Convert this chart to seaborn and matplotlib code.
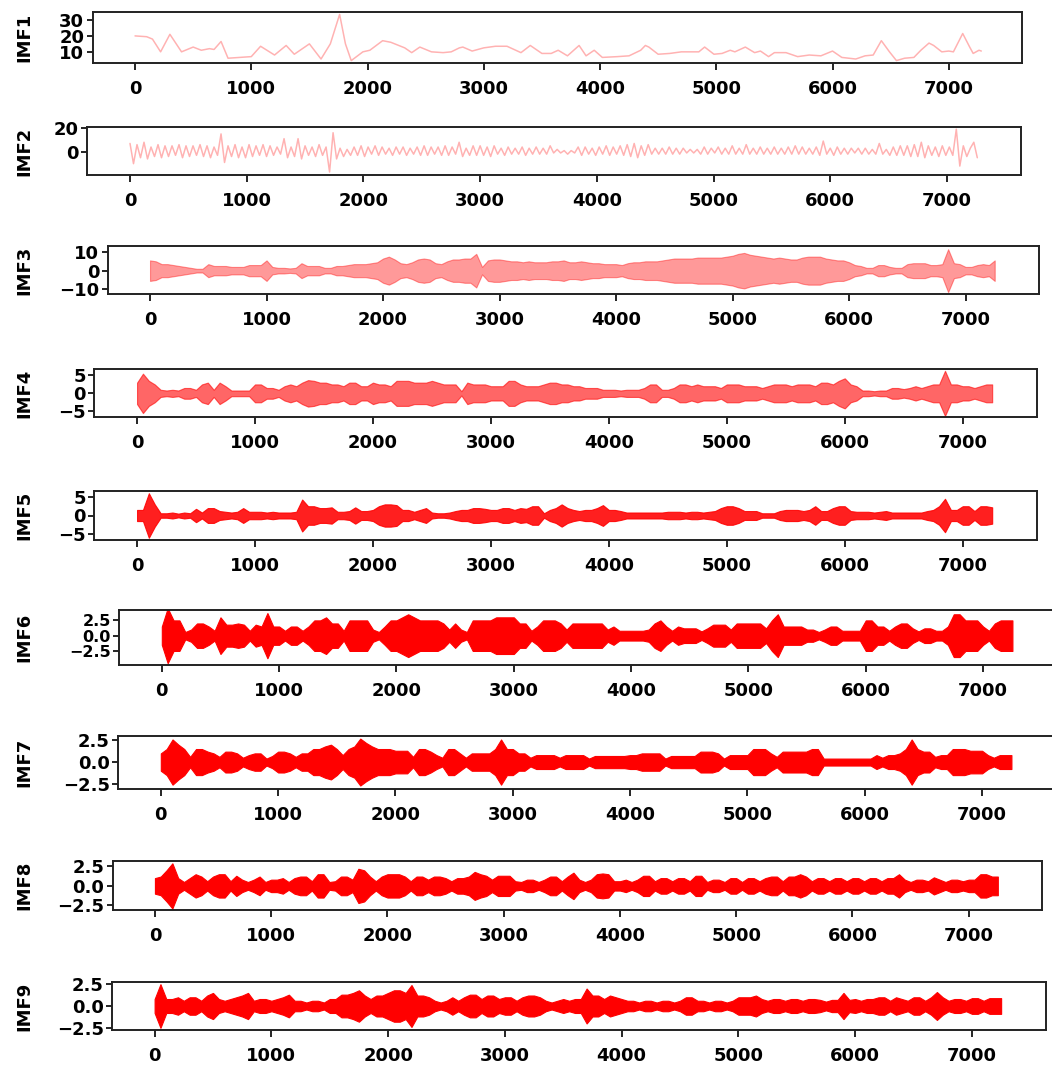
"""Nine stacked IMF panels from an EMD decomposition"""
import numpy as np
import pandas as pd
import matplotlib
matplotlib.use("Agg")
import matplotlib.pyplot as plt
import seaborn as sns


# sample grids of the read-off values
IMF2_SAMPLES = np.arange(0, 7261, 30)
ENV_SAMPLES = np.arange(0, 7251, 50)

# IMF1: smooth curve, read at its turning points
IMF1_X = [0, 100, 150, 220, 300, 400, 500, 570, 640, 680,
          740, 800, 900, 1000, 1080, 1200, 1300, 1370, 1500, 1600,
          1680, 1760, 1810, 1860, 1960, 2020, 2130, 2200, 2320, 2380,
          2450, 2550, 2650, 2720, 2790, 2820, 2900, 3000, 3100, 3200,
          3320, 3400, 3500, 3580, 3640, 3720, 3820, 3880, 3950, 4020,
          4150, 4250, 4350, 4390, 4420, 4500, 4600, 4700, 4850, 4900,
          4980, 5050, 5120, 5160, 5250, 5330, 5380, 5450, 5500, 5600,
          5700, 5800, 5900, 6000, 6080, 6200, 6280, 6350, 6420, 6490,
          6550, 6620, 6700, 6760, 6830, 6870, 6940, 7000, 7040, 7120,
          7180, 7210, 7260, 7280]
IMF1_Y = [20, 19.5, 18, 10, 21, 10, 13, 11, 12, 11.5,
          16.5, 6, 6.5, 7, 13.5, 8, 14, 8.5, 15, 5.5,
          15, 33.5, 15, 4.5, 10, 11, 17, 16, 12.5, 9.5,
          13, 10, 9.5, 10, 12.5, 13, 10.5, 12.5, 13.5, 13.5,
          9.5, 14, 9, 9, 11, 7.5, 14, 7.5, 11, 6.5,
          7, 7.5, 11, 14, 13, 8.5, 9, 10, 10, 13,
          8.5, 9, 11, 10, 13, 9.5, 10.5, 7, 9.5, 9.5,
          7, 8, 7.5, 10.5, 6.5, 5.5, 7.5, 8, 17, 10,
          4.5, 6, 6.5, 11, 15.5, 14, 10, 10.5, 10, 21.5,
          13, 9, 11, 10.5]

# IMF2: peaks and troughs, one every 30 samples
IMF2_Y = [7, -10, 6, -5, 8, -6, 4, -4, 6, -5, 5, -4, 5, -3, 6, -5, 5, -4, 5, -3,
          6, -4, 5, -5, 4, -3, 15, -9, 5, -4, 6, -5, 4, -5, 6, -4, 5, -3, 6, -4,
          5, -3, 4, -2, 11, -5, 4, -4, 11, -6, 5, -3, 4, -4, 6, -3, 4, -17, 16, -6,
          3, -4, 2, -3, 4, -3, 5, -4, 4, -2, 5, -3, 4, -2, 3, -3, 4, -2, 4, -3,
          3, -2, 4, -3, 5, -3, 4, -2, 4, -3, 5, -3, 4, -2, 8, -4, 3, -3, 5, -3,
          5, -3, 4, -4, 5, -2, 3, -3, 4, -2, 3, -2, 4, -3, 3, -2, 4, -2, 3, -2,
          5, -1, 2, -1, 1, -2, 1, -1, 4, -3, 4, -2, 3, -3, 4, -2, 5, -3, 4, -2,
          5, -3, 6, -4, 7, -5, 5, -3, 6, -2, 3, -2, 3, -2, 4, -2, 3, -2, 3, -1,
          2, -1, 2, -2, 4, -2, 3, -1, 4, -2, 3, -2, 5, -2, 3, -2, 6, -2, 3, -2,
          4, -2, 3, -2, 4, -2, 3, -2, 4, -2, 5, -2, 4, -2, 3, -2, 4, -3, 9, -2,
          3, -3, 4, -2, 3, -2, 3, -1, 3, -2, 3, -2, 2, -2, 7, -2, 2, -3, 4, -3,
          5, -3, 5, -4, 6, -4, 8, -5, 5, -3, 4, -4, 5, -3, 4, -3, 19, -12, 5, -4,
          3, 8, -5]

# IMF3..IMF9: oscillation envelope (half amplitude), one value every 50 samples
IMF3_ENV = [5.5, 5, 3.5, 3.5, 3, 2.5, 2, 1.5, 1, 1,
            3.5, 2.5, 2.5, 2.5, 2, 2, 2, 3, 3, 3,
            5.5, 2, 1.5, 1.5, 1.2, 1.5, 4, 2.5, 2.5, 2.5,
            1.5, 1.5, 2.5, 2.5, 3, 3.5, 3.5, 3.5, 4, 4.5,
            6.5, 7.5, 6, 4, 3.5, 4.5, 6, 6.5, 6, 4,
            3.5, 5, 6, 6, 6.5, 6.5, 9, 2, 5.5, 6,
            6, 5.5, 5, 5, 4.5, 5, 4.5, 4.5, 4.5, 5,
            5, 5.5, 4.5, 4.5, 5, 4.5, 4, 4, 3.5, 3.5,
            3.5, 3, 4, 4.5, 4.5, 5, 5, 5, 5.5, 6,
            6.5, 6.5, 6.5, 6.5, 7, 7, 7, 7, 7, 7.5,
            8, 9, 9.5, 8.5, 8, 7.5, 7, 6.5, 7, 6.5,
            6, 6, 7, 7.5, 7.5, 7.5, 6.5, 6, 5.5, 5.5,
            4.5, 3, 2.5, 1.5, 1.5, 3, 3, 2, 1.5, 1.5,
            3.5, 4, 4, 4, 3, 3, 3.5, 11.5, 4, 3.5,
            2, 2, 3, 3.5, 3, 5.5]
IMF4_ENV = [3, 5.5, 3.5, 2.5, 1, 0.8, 1, 0.8, 1.5, 1.5,
            1, 2.5, 3, 1, 3, 2, 0.8, 0.8, 0.8, 0.8,
            2.5, 2.5, 1.5, 1.5, 1, 2, 2.5, 2, 3, 3.7,
            3.5, 3, 3, 2.5, 2.5, 2, 3, 3, 2, 2,
            3, 2.5, 2.5, 2, 3.5, 3.5, 3.5, 3, 3, 3,
            3.5, 3, 2.5, 2.5, 2.5, 0.6, 3, 2.5, 2.5, 2.5,
            2, 2, 2, 3.5, 3.5, 2.5, 2, 2, 2, 2.5,
            3, 3, 2.5, 2.5, 2, 2, 1.5, 1.5, 1.5, 1,
            1, 1, 0.8, 1, 1, 1, 1.5, 2.5, 2.5, 1,
            1, 1.5, 2.5, 2.5, 2, 2.5, 2, 2, 2, 1.5,
            2.5, 2.5, 2.5, 2, 2, 2, 1.5, 2, 2.5, 2.5,
            2.5, 2, 2.5, 2.5, 2.5, 2, 3, 3, 2.5, 3.5,
            4.2, 2.5, 2, 0.8, 0.8, 0.6, 0.8, 0.8, 1.5, 1.5,
            1.2, 1.5, 2, 1.5, 2, 2.5, 2.5, 6.3, 2.5, 2.5,
            2, 2, 1.5, 2, 2.5, 2.5]
IMF5_ENV = [1.5, 1.5, 6, 3, 0.6, 0.6, 0.8, 0.5, 0.8, 0.6,
            1.8, 0.8, 2, 2, 1.2, 1, 0.8, 1, 2, 1,
            1, 1, 0.8, 1, 0.8, 0.8, 0.8, 1, 4.3, 2.5,
            2.5, 2, 2, 2.2, 1, 1, 1.2, 2.2, 1.2, 1.2,
            1.5, 2.5, 3, 3, 2.8, 1.5, 1.5, 1, 1.5, 2,
            0.8, 0.6, 0.6, 0.8, 1.2, 1.5, 1.5, 2, 2, 1.8,
            1.5, 1.5, 2, 2, 1.5, 2, 1.8, 2.5, 2.5, 0.6,
            1.5, 2, 3, 2, 1.5, 1.2, 1.5, 1.5, 2, 2.8,
            1.5, 1.5, 1.2, 0.8, 0.8, 0.8, 0.8, 0.8, 0.8, 0.8,
            1, 1, 1, 0.8, 1, 1, 0.8, 1, 1.2, 2,
            2.5, 2.5, 2, 1.2, 1.2, 1.2, 0.6, 0.6, 0.6, 1.2,
            1.5, 1.5, 1.5, 1.2, 1.5, 2.5, 1.2, 1.2, 2, 2.5,
            2.5, 1.2, 1, 1, 1, 0.8, 1, 1.2, 0.8, 0.8,
            0.8, 0.8, 0.8, 0.8, 1.2, 1.5, 2.5, 4.5, 1.5, 1.5,
            2.5, 2.5, 1.2, 2.5, 2.5, 2.2]
IMF6_ENV = [1.5, 4.5, 2.5, 2.5, 0.6, 1, 2, 2, 1.5, 0.8,
            3, 1.8, 1.8, 2, 1.8, 0.8, 1.8, 1.5, 3.7, 1.5,
            1.5, 0.8, 1.5, 1.5, 0.8, 1.5, 2.5, 2.5, 3, 2,
            2, 0.8, 2.5, 2.5, 2.5, 2.5, 1, 0.6, 1.5, 2.5,
            2.5, 3, 3.5, 3, 2.5, 2.5, 2.5, 2.5, 2, 1,
            2, 1, 0.6, 2.5, 2.5, 2.5, 2.5, 3, 3, 3,
            3, 2, 2, 0.8, 1.5, 2.5, 2.5, 2.5, 2, 1,
            2, 2, 2, 2, 2, 2, 1, 1.5, 0.8, 0.8,
            0.8, 0.8, 0.8, 1, 2, 2.5, 1.5, 0.8, 1.5, 1.2,
            1.2, 1.2, 0.7, 1.2, 1.8, 1.8, 1.8, 1, 2, 2,
            2, 2, 2, 1.2, 2.5, 3.5, 1.5, 1.5, 1.5, 1.5,
            1, 1, 0.6, 1, 1.5, 1.5, 0.8, 0.8, 0.8, 0.8,
            2.5, 2.5, 1.5, 1.5, 0.8, 1.5, 2, 2, 1.2, 0.7,
            1.2, 1.2, 0.8, 0.8, 1.5, 3.5, 3.5, 2.5, 2.5, 2.5,
            1.5, 0.8, 2, 2.5, 2.5, 2.5]
IMF7_ENV = [1, 1.5, 2.6, 2, 1.5, 0.6, 1.5, 1.5, 1.2, 1,
            0.6, 1.2, 1.2, 1, 0.5, 0.8, 1, 1, 0.4, 0.7,
            1.2, 1.2, 1, 0.6, 1, 1, 1.5, 1.5, 1.8, 2,
            1.5, 0.8, 1.5, 1.8, 2.7, 2.2, 1.8, 1.5, 1.5, 1.5,
            1.3, 1.3, 1.3, 0.6, 1.5, 1.5, 1.2, 0.8, 0.5, 1.5,
            1.5, 1, 0.5, 1, 1, 1, 1, 1.5, 2.6, 1.5,
            1.5, 1, 1, 0.5, 0.8, 0.8, 0.8, 0.8, 0.5, 0.8,
            0.8, 0.8, 0.8, 0.4, 0.7, 0.7, 0.7, 0.7, 0.7, 0.7,
            0.8, 0.8, 1, 1, 1, 1, 0.4, 0.7, 0.7, 0.7,
            0.7, 0.7, 1.2, 1.2, 1.2, 1, 0.4, 0.8, 0.8, 0.8,
            0.8, 1.5, 1.5, 1.5, 1, 0.6, 1.2, 1.2, 1.2, 1.2,
            1.2, 1.5, 1.5, 0.4, 0.4, 0.4, 0.4, 0.4, 0.4, 0.4,
            0.4, 0.4, 0.8, 0.5, 0.8, 0.8, 1, 1.5, 2.6, 1.5,
            1.2, 1.2, 0.6, 0.8, 0.8, 1.5, 1.5, 1.5, 1.3, 1.3,
            1.3, 0.8, 0.5, 0.8, 0.8, 0.8]
IMF8_ENV = [1, 1.2, 2, 2.9, 1, 0.5, 1, 1.5, 1.2, 0.6,
            1.2, 1.5, 1.5, 0.6, 1.3, 0.8, 0.5, 0.8, 1.2, 0.5,
            0.8, 0.8, 1, 0.5, 1, 1.2, 1.2, 0.6, 1.5, 1.5,
            0.5, 0.6, 1.2, 1.2, 0.8, 2.2, 2, 1.2, 0.6, 1.2,
            1.5, 1.5, 1.5, 1.2, 0.6, 1.2, 1.2, 0.8, 1.2, 1.2,
            1, 0.6, 1, 1, 1.2, 1.8, 1.5, 1.3, 0.8, 1.3,
            1.3, 1.3, 0.6, 0.5, 0.8, 0.8, 0.5, 0.8, 1.2, 1.2,
            0.6, 1.2, 1.7, 0.8, 0.5, 0.8, 1.5, 1.6, 1.5, 0.6,
            0.6, 0.8, 0.5, 0.8, 1.3, 1.3, 0.6, 1, 1, 0.6,
            1, 1, 0.6, 1.3, 1.3, 0.5, 0.8, 0.8, 0.5, 1,
            1, 0.5, 1, 1, 0.6, 1, 1.2, 1.2, 0.6, 1.2,
            1.2, 1.5, 1.2, 0.6, 1, 1, 0.6, 1, 1, 0.6,
            1, 1, 0.6, 1, 1, 0.6, 1, 1, 1.5, 0.8,
            0.5, 0.8, 0.8, 0.6, 1.1, 0.8, 0.5, 0.8, 0.8, 0.6,
            0.8, 0.8, 1.5, 1.5, 1.2, 1.2]
IMF9_ENV = [0.8, 2.5, 0.8, 0.8, 1, 0.6, 1, 1, 0.6, 1.2,
            1.5, 0.8, 0.6, 0.8, 1, 1.2, 1.5, 0.6, 0.8, 0.8,
            0.6, 0.8, 1, 1.3, 0.6, 0.6, 0.4, 0.6, 0.6, 0.4,
            0.8, 0.8, 1.3, 1.3, 1.5, 1.8, 1.2, 0.8, 1.2, 1.2,
            1.5, 1.8, 1.8, 1.5, 2.4, 1.2, 1.2, 1, 0.6, 0.4,
            0.6, 1, 0.6, 1, 1.3, 1.3, 0.8, 1.2, 1.2, 0.8,
            1, 1, 0.6, 1, 1.2, 1.2, 1, 0.6, 0.4, 0.6,
            0.8, 0.6, 0.8, 0.8, 2, 1.2, 1.2, 0.8, 1.2, 1,
            0.8, 0.6, 0.6, 0.4, 0.6, 0.6, 0.4, 0.6, 0.6, 0.4,
            0.6, 1, 1, 0.6, 0.6, 0.4, 0.6, 0.6, 0.4, 0.6,
            1, 1, 1, 1.2, 0.8, 0.6, 0.8, 0.8, 0.6, 0.8,
            0.8, 0.6, 0.8, 0.8, 0.7, 0.5, 0.7, 0.7, 1.5, 0.7,
            0.8, 0.6, 0.8, 0.8, 1, 1, 0.6, 1, 0.8, 0.6,
            1, 1, 0.6, 1, 1.6, 1, 0.6, 0.8, 0.8, 0.6,
            0.9, 0.9, 0.6, 0.9, 0.9, 0.9]

# panel layout in pixels: left, right, top, bottom, then y limits, y ticks, red alpha
FIG_W, FIG_H = 1052, 1068
XLIM = (-365, 7630)
PANELS = {
    "IMF1": dict(box=(92.6, 1022, 12, 63), ylim=(3.0, 35.0), yticks=[10, 20, 30], alpha=0.3, ysize=13),
    "IMF2": dict(box=(87.4, 1020.5, 127, 175), ylim=(-19.5, 20.8), yticks=[0, 20], alpha=0.3, ysize=13),
    "IMF3": dict(box=(107.5, 1039, 246, 294), ylim=(-12.5, 13.2), yticks=[-10, 0, 10], alpha=0.4, ysize=13),
    "IMF4": dict(box=(94, 1037, 369, 417), ylim=(-6.6, 6.8), yticks=[-5, 0, 5], alpha=0.6, ysize=13),
    "IMF5": dict(box=(94, 1037, 491, 540), ylim=(-6.6, 6.6), yticks=[-5, 0, 5], alpha=0.88, ysize=13),
    "IMF6": dict(box=(119, 1057, 610, 665), ylim=(-4.8, 4.2), yticks=[-2.5, 0, 2.5], alpha=1.0, ysize=11.5),
    "IMF7": dict(box=(118, 1056, 736, 789), ylim=(-3.1, 3.0), yticks=[-2.5, 0, 2.5], alpha=1.0, ysize=13),
    "IMF8": dict(box=(112.5, 1042, 861, 910), ylim=(-3.1, 3.2), yticks=[-2.5, 0, 2.5], alpha=1.0, ysize=13),
    "IMF9": dict(box=(112, 1045.5, 982, 1030), ylim=(-2.75, 2.75), yticks=[-2.5, 0, 2.5], alpha=1.0, ysize=13),
}
LABEL_RIGHT_PX = 33


def plot_curve(ax, x, y, color):
    """Draws a read-off curve as a seaborn line"""
    df = pd.DataFrame({"sample": x, "value": y})
    sns.lineplot(data=df, x="sample", y="value", ax=ax, color=color, linewidth=1.1)


def plot_band(ax, env, color):
    """Draws a dense oscillation as the band between its envelopes"""
    df = pd.DataFrame({"sample": ENV_SAMPLES, "amp": env})
    ax.fill_between(df["sample"], -df["amp"], df["amp"],
                    facecolor=color, edgecolor=color, linewidth=0.8)


def style_axes(ax, name, spec):
    """Ticks, limits and label for one panel"""
    left, right, _, _ = spec["box"]
    ax.set_xlim(*XLIM)
    ax.set_ylim(*spec["ylim"])
    ax.set_xticks(range(0, 7001, 1000))
    ax.set_yticks(spec["yticks"])
    ax.tick_params(axis="x", length=5, width=1.2, pad=7, colors="black")
    ax.tick_params(axis="y", length=4, width=1.2, pad=2, colors="black")
    for lab in ax.get_xticklabels():
        lab.set_fontsize(13)
        lab.set_fontweight("bold")
    for lab in ax.get_yticklabels():
        lab.set_fontsize(spec["ysize"])
        lab.set_fontweight("bold")
    for sp in ax.spines.values():
        sp.set_linewidth(1.4)
        sp.set_color("#222222")
    ax.set_xlabel("")
    ax.set_ylabel(name, fontsize=13, fontweight="bold", color="black")
    ax.yaxis.set_label_coords((LABEL_RIGHT_PX - left) / (right - left), 0.5)


def make_axes(fig, name):
    """Adds one panel at its pixel position"""
    spec = PANELS[name]
    left, right, top, bottom = spec["box"]
    ax = fig.add_axes([left / FIG_W, 1 - bottom / FIG_H,
                       (right - left) / FIG_W, (bottom - top) / FIG_H])
    return ax, spec, (1, 0, 0, spec["alpha"])


def plot_imfs():
    sns.set_style("ticks")
    plt.rcParams["font.family"] = ["DejaVu Sans"]
    plt.rcParams["axes.unicode_minus"] = True

    fig = plt.figure(figsize=(FIG_W / 100, FIG_H / 100), dpi=100)

    ax, spec, col = make_axes(fig, "IMF1")
    plot_curve(ax, IMF1_X, IMF1_Y, col)
    style_axes(ax, "IMF1", spec)

    ax, spec, col = make_axes(fig, "IMF2")
    plot_curve(ax, IMF2_SAMPLES, IMF2_Y, col)
    style_axes(ax, "IMF2", spec)

    bands = {"IMF3": IMF3_ENV, "IMF4": IMF4_ENV, "IMF5": IMF5_ENV,
             "IMF6": IMF6_ENV, "IMF7": IMF7_ENV, "IMF8": IMF8_ENV,
             "IMF9": IMF9_ENV}
    for name, env in bands.items():
        ax, spec, col = make_axes(fig, name)
        plot_band(ax, env, col)
        style_axes(ax, name, spec)

    fig.savefig("out.png", dpi=100)


if __name__ == "__main__":
    plot_imfs()
